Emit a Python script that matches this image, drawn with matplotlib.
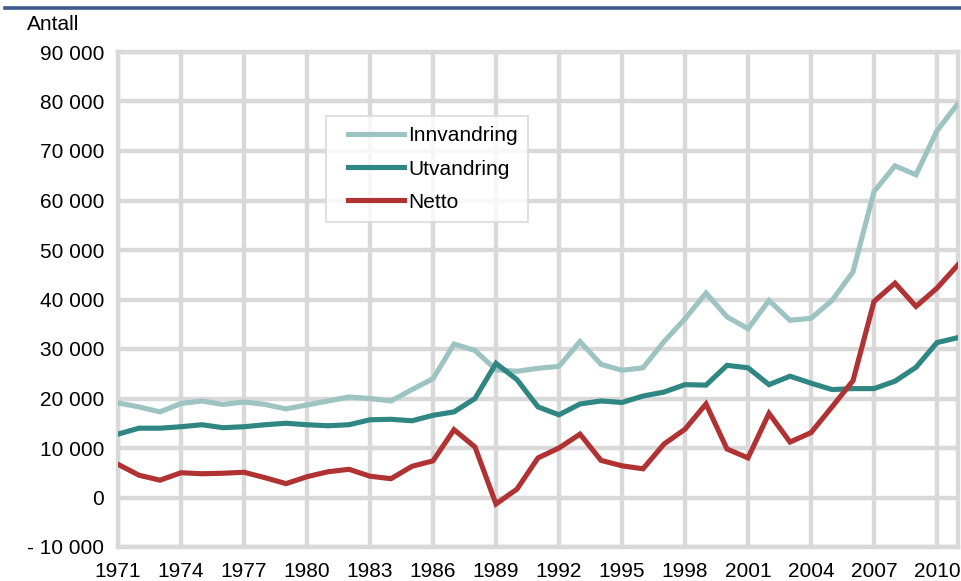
import matplotlib
matplotlib.use("Agg")
import matplotlib.pyplot as plt
from matplotlib.ticker import FuncFormatter
from matplotlib.legend_handler import HandlerLine2D
import matplotlib.lines as mlines

plt.rcParams['font.family'] = ['Liberation Sans', 'DejaVu Sans']

years = list(range(1971, 2012))
innvandring = [19100, 18300, 17300, 19000, 19500, 18800, 19300, 18800, 17900, 18700,
               19500, 20300, 20000, 19500, 21800, 24000, 31000, 29700, 25800, 25500,
               26100, 26500, 31500, 26900, 25700, 26200, 31500, 36100, 41300, 36500,
               34100, 39800, 35800, 36200, 39800, 45600, 61800, 67000, 65200, 74100, 79600]
utvandring = [12800, 14000, 14000, 14300, 14700, 14100, 14300, 14700, 15000, 14700,
              14500, 14700, 15700, 15800, 15500, 16600, 17300, 20000, 27100, 23800,
              18300, 16700, 18900, 19500, 19200, 20500, 21300, 22800, 22700, 26700,
              26200, 22800, 24500, 23100, 21800, 22000, 22000, 23500, 26300, 31300, 32300]
netto = [6700, 4500, 3500, 5000, 4800, 4900, 5100, 4000, 2800, 4200,
         5200, 5700, 4300, 3800, 6300, 7400, 13700, 10200, -1300, 1700,
         8000, 10000, 12800, 7500, 6400, 5800, 10800, 13800, 18900, 9800,
         8000, 17000, 11200, 13100, 18300, 23600, 39600, 43300, 38600, 42300, 47000]

series_names = ["Innvandring", "Utvandring", "Netto"]
colors = ["#9DC4C2", "#2F8682", "#B03232"]
xticks = list(range(1971, 2011, 3))

W, H = 961, 581
fig = plt.figure(figsize=(W / 100, H / 100), dpi=100)
ax = fig.add_axes([118 / W, 1 - 547 / H, (958 - 118) / W, (547 - 52) / H])

grid_c = "#D9D9D9"
for i, (vals, c) in enumerate(zip([innvandring, utvandring, netto], colors)):
    ax.plot(years, vals, color=c, lw=3.7, solid_joinstyle='miter', label=series_names[i], zorder=3)

ax.set_xlim(1971, 2011)
ax.set_ylim(-10000, 90000)
ax.set_xticks(xticks)
ax.set_yticks(range(-10000, 90001, 10000))

def fmt(v, pos):
    v = int(round(v))
    s = f"{abs(v):,}".replace(",", " ")
    return ("- " + s) if v < 0 else s

ax.yaxis.set_major_formatter(FuncFormatter(fmt))
ax.grid(True, color=grid_c, lw=3.2, zorder=1)
ax.set_axisbelow(True)
for sp in ax.spines.values():
    sp.set_color(grid_c)
    sp.set_linewidth(3.2)
ax.tick_params(length=0, labelsize=15, colors="black", pad=10)
ax.tick_params(axis='x', pad=11)

fig.text(27 / W, 1 - 25 / H, "Antall", fontsize=15, ha='left', va='center')

# top rule
fig.add_artist(mlines.Line2D([5 / W, 1.0], [1 - 7.5 / H, 1 - 7.5 / H], color="#3F5B8E", lw=2.6))


class OffsetLine(HandlerLine2D):
    def __init__(self, offset, **kw):
        super().__init__(**kw)
        self.offset = offset

    def create_artists(self, legend, orig_handle, xdescent, ydescent, width, height, fontsize, trans):
        return super().create_artists(legend, orig_handle, xdescent - self.offset, ydescent,
                                      width - self.offset, height, fontsize, trans)


handles, labels = ax.get_legend_handles_labels()
off_pt = 8.0
leg = ax.legend(handles, labels, loc='upper left', bbox_to_anchor=(326 / W, 1 - 116 / H),
                bbox_transform=fig.transFigure, fontsize=15, frameon=True,
                fancybox=False, edgecolor=grid_c, handlelength=2.7 + off_pt / 15,
                handletextpad=0.2, labelspacing=0.68, borderpad=0.5,
                borderaxespad=0,
                handler_map={h: OffsetLine(off_pt) for h in handles})
leg.get_frame().set_linewidth(1.5)
leg.set_zorder(5)

fig.savefig("out.png", dpi=100)
